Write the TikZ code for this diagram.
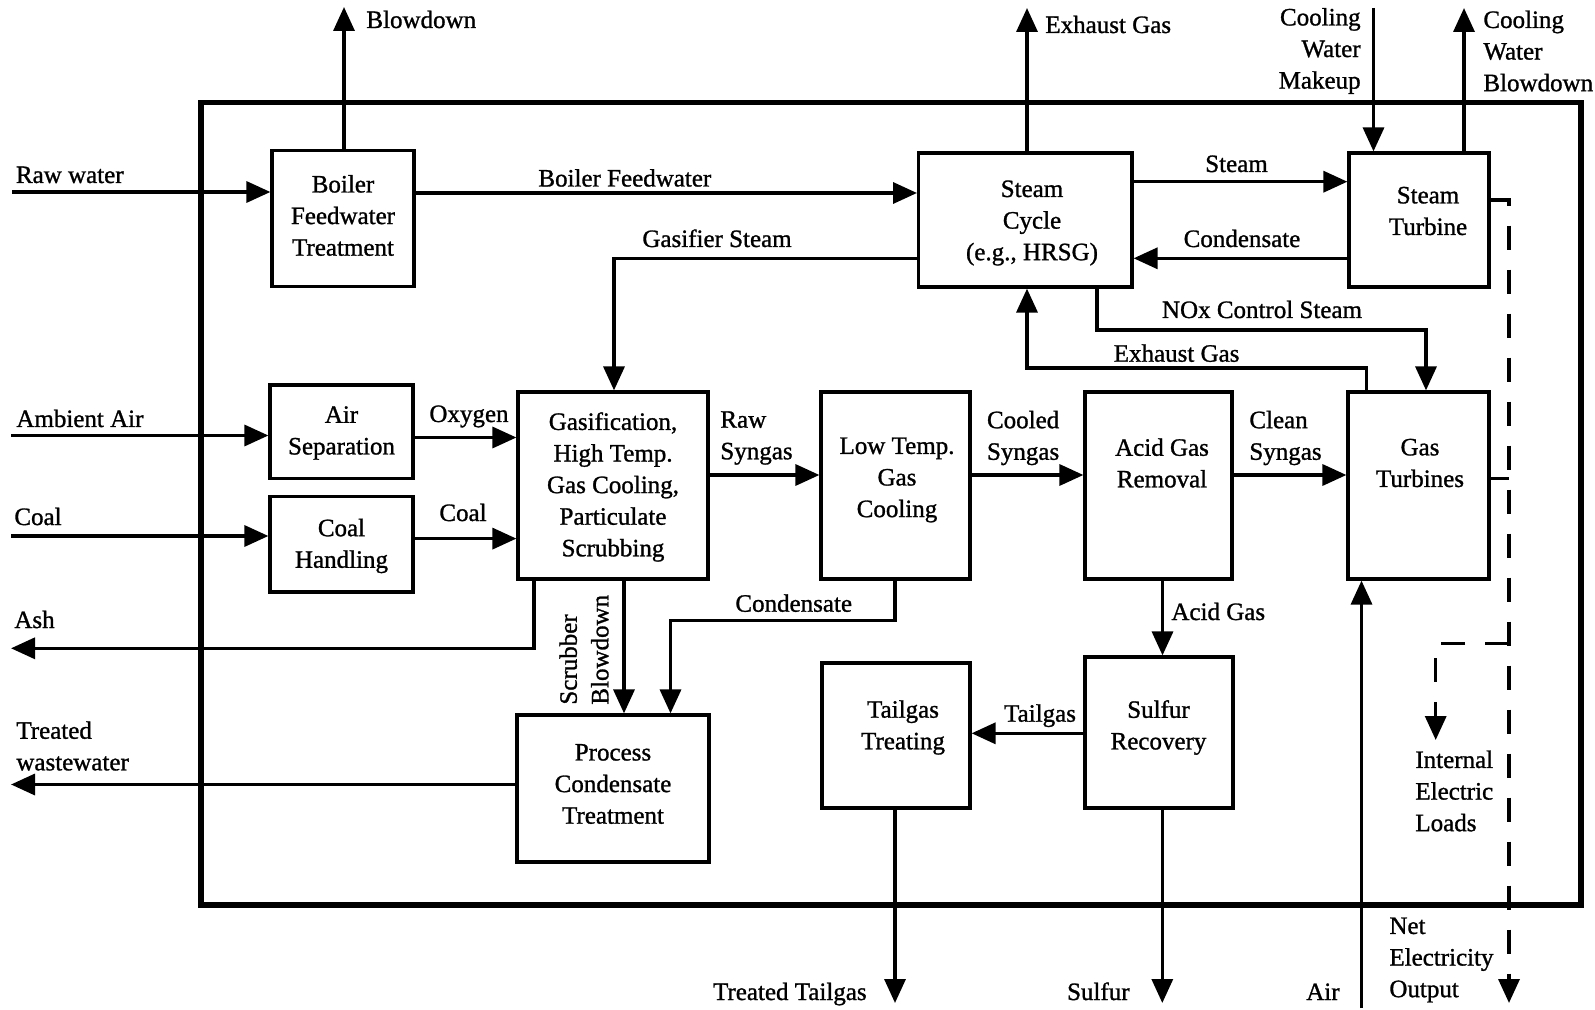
\documentclass[tikz,border=0pt]{standalone}
\usepackage{fontspec}
\setmainfont{Liberation Serif}[FakeBold=1.1]
\usetikzlibrary{arrows.meta,fit}

\begin{document}
\begin{tikzpicture}[x=0.5pt,y=-0.5pt,
  font=\fontsize{12.5}{15.8}\selectfont,
  box/.style={draw,line width=1.6pt,inner sep=0pt},
  lbl/.style={inner sep=0pt,align=center},
  flow/.style={line width=1.7pt,-{Triangle[length=12pt,width=10.5pt]}},
  dsh/.style={line width=1.7pt,dash pattern=on 12pt off 10pt},
  dflow/.style={dsh,-{Triangle[length=12pt,width=10.5pt]}},
  frame/.style={line width=2.8pt}]

\useasboundingbox (0,0) rectangle (1595,1010);

% plant boundary
\draw[frame] (201,102.5) rectangle (1581,905);

% process blocks
\node[box,fit={(272,150.5) (414,286.5)}] (bft) {};
\node[box,fit={(918.6,153) (1132,287)}] (sc) {};
\node[box,fit={(1349,153) (1489,287)}] (stt) {};
\node[box,fit={(270,385) (413,478.4)}] (as) {};
\node[box,fit={(270,496.5) (413,592)}] (ch) {};
\node[box,fit={(518,392) (708,579)}] (gas) {};
\node[box,fit={(821,392) (970,579)}] (ltgc) {};
\node[box,fit={(1085,392) (1232,579)}] (agr) {};
\node[box,fit={(1348,392) (1489,579)}] (gt) {};
\node[box,fit={(517,715) (709,862)}] (pc) {};
\node[box,fit={(822,663) (970,808)}] (tt) {};
\node[box,fit={(1085,657) (1233,808)}] (sr) {};

% block captions
\node[lbl] (bft-t) at (343,215.5) {Boiler\\Feedwater\\Treatment};
\node[lbl] (sc-t) at (1032,223) {Steam\\Cycle\\(e.g., HRSG)};
\node[lbl] (stt-t) at (1428,211) {Steam\\Turbine};
\node[lbl] (as-t) at (341.5,433) {Air\\Separation};
\node[lbl] (ch-t) at (341.5,546) {Coal\\Handling};
\node[lbl] (gas-t) at (613,487) {Gasification,\\High Temp.\\Gas Cooling,\\Particulate\\Scrubbing};
\node[lbl] (ltgc-t) at (897,480) {Low Temp.\\Gas\\Cooling};
\node[lbl] (agr-t) at (1162,463) {Acid Gas\\Removal};
\node[lbl] (gt-t) at (1420,463) {Gas\\Turbines};
\node[lbl] (pc-t) at (613,784) {Process\\Condensate\\Treatment};
\node[lbl] (tt-t) at (903,727.5) {Tailgas\\Treating};
\node[lbl] (sr-t) at (1158.5,727.5) {Sulfur\\Recovery};

% connector way points
\coordinate (rw) at (12,192);
\coordinate (bd) at (344,7);
\coordinate (bfw) at (0,193);
\coordinate (gs) at (614,258.5);
\coordinate (ex) at (1027,8);
\coordinate (stm) at (0,181.7);
\coordinate (cnd) at (0,258.3);
\coordinate (cwm) at (1373.5,8);
\coordinate (cwb) at (1464,8);
\coordinate (nx1) at (1097,330);
\coordinate (nx2) at (1426,330);
\coordinate (eg1) at (1366.6,368);
\coordinate (eg2) at (1027,368);
\coordinate (aa) at (11,435.5);
\coordinate (ox) at (0,437.5);
\coordinate (ci) at (11,536);
\coordinate (cm) at (0,538.6);
\coordinate (ash1) at (534,648.3);
\coordinate (ash2) at (11,648.3);
\coordinate (sb) at (624,0);
\coordinate (c1) at (895,620.7);
\coordinate (c2) at (670.5,620.7);
\coordinate (tw) at (11,784.5);
\coordinate (syn) at (0,475);
\coordinate (ag) at (1162.5,0);
\coordinate (tg) at (0,733.3);
\coordinate (tto) at (895,1003);
\coordinate (sfo) at (1162.3,1003);
\coordinate (air) at (1361.5,1008);
\coordinate (dv) at (1509,200);
\coordinate (dend) at (1509,1003);
\coordinate (dg) at (1509,478.4);
\coordinate (db1) at (1509,643.3);
\coordinate (db2) at (1435.7,643.3);
\coordinate (db3) at (1435.7,740);

% water and steam side
\draw[flow] (rw) -- (rw -| bft.west);
\draw[flow] (bd |- bft.north) -- (bd);
\draw[flow] (bfw -| bft.east) -- (bfw -| sc.west);
\draw[flow] (gs -| sc.west) -- (gs) -- (gs |- gas.north);
\draw[flow] (ex |- sc.north) -- (ex);
\draw[flow] (stm -| sc.east) -- (stm -| stt.west);
\draw[flow] (cnd -| stt.west) -- (cnd -| sc.east);
\draw[flow] (cwm) -- (cwm |- stt.north);
\draw[flow] (cwb |- stt.north) -- (cwb);
\draw[flow] (nx1 |- sc.south) -- (nx1) -- (nx2) -- (nx2 |- gt.north);
\draw[flow] (eg1 |- gt.north) -- (eg1) -- (eg2) -- (eg2 |- sc.south);

% gasification train
\draw[flow] (aa) -- (aa -| as.west);
\draw[flow] (ox -| as.east) -- (ox -| gas.west);
\draw[flow] (ci) -- (ci -| ch.west);
\draw[flow] (cm -| ch.east) -- (cm -| gas.west);
\draw[flow] (ash1 |- gas.south) -- (ash1) -- (ash2);
\draw[flow] (sb |- gas.south) -- (sb |- pc.north);
\draw[flow] (c1 |- ltgc.south) -- (c1) -- (c2) -- (c2 |- pc.north);
\draw[flow] (tw -| pc.west) -- (tw);
\draw[flow] (syn -| gas.east) -- (syn -| ltgc.west);
\draw[flow] (syn -| ltgc.east) -- (syn -| agr.west);
\draw[flow] (syn -| agr.east) -- (syn -| gt.west);
\draw[flow] (ag |- agr.south) -- (ag |- sr.north);
\draw[flow] (tg -| sr.west) -- (tg -| tt.east);
\draw[flow] (tto |- tt.south) -- (tto);
\draw[flow] (sfo |- sr.south) -- (sfo);
\draw[flow] (air) -- (air |- gt.south);

% electric power (dashed)
\draw[dflow] (dv -| stt.east) -- (dv) -- (dend);
\draw[dsh] (dg -| gt.east) -- (dg);
\draw[dflow] (db1) -- (db2) -- (db3);

% stream labels
\node[lbl,anchor=base west] (l-bd) at (366,28) {Blowdown};
\node[lbl,anchor=base west] (l-rw) at (15.6,183) {Raw water};
\node[lbl,anchor=base west] (l-bfw) at (538,186.5) {Boiler Feedwater};
\node[lbl,anchor=base west] (l-gs) at (642,247) {Gasifier Steam};
\node[lbl,anchor=base west] (l-ex) at (1045,33) {Exhaust Gas};
\node[lbl,anchor=east,align=right] (l-cwm) at (1361,51) {Cooling\\Water\\Makeup};
\node[lbl,anchor=west,align=left] (l-cwb) at (1483,51) {Cooling\\Water\\Blowdown};
\node[lbl,anchor=base] (l-stm) at (1236.5,172) {Steam};
\node[lbl,anchor=base] (l-cnd) at (1242,247) {Condensate};
\node[lbl,anchor=base] (l-nx) at (1262,318) {NOx Control Steam};
\node[lbl,anchor=base] (l-eg) at (1176.6,361.7) {Exhaust Gas};
\node[lbl,anchor=base west] (l-aa) at (16,427) {Ambient Air};
\node[lbl,anchor=base] (l-ox) at (469,422) {Oxygen};
\node[lbl,anchor=base west] (l-ci) at (14,525) {Coal};
\node[lbl,anchor=base] (l-cm) at (463,521) {Coal};
\node[lbl,anchor=west,align=left] (l-raw) at (720,438) {Raw\\Syngas};
\node[lbl,anchor=west,align=left] (l-cool) at (986.6,438) {Cooled\\Syngas};
\node[lbl,anchor=west,align=left] (l-clean) at (1249,438) {Clean\\Syngas};
\node[lbl,anchor=base west] (l-ash) at (14,628) {Ash};
\node[lbl,rotate=90,anchor=west,align=left] (l-sb) at (584,705) {Scrubber\\Blowdown};
\node[lbl,anchor=base west] (l-c2) at (735,611.7) {Condensate};
\node[lbl,anchor=west,align=left] (l-tw) at (16,746) {Treated\\wastewater};
\node[lbl,anchor=base west] (l-ag) at (1171,620) {Acid Gas};
\node[lbl,anchor=base] (l-tg) at (1040,721.7) {Tailgas};
\node[lbl,anchor=base east] (l-tto) at (867,1000) {Treated Tailgas};
\node[lbl,anchor=base east] (l-sfo) at (1130,1000) {Sulfur};
\node[lbl,anchor=base east] (l-air) at (1340,1000) {Air};
\node[lbl,anchor=west,align=left] (l-iel) at (1415,791) {Internal\\Electric\\Loads};
\node[lbl,anchor=west,align=left] (l-net) at (1389,960) {Net\\Electricity\\Output};

\end{tikzpicture}
\end{document}
